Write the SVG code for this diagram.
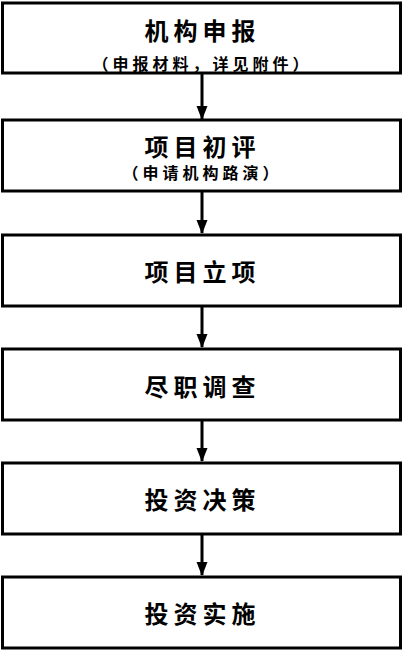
<svg xmlns="http://www.w3.org/2000/svg" width="403" height="650" viewBox="0 0 403 650">
<style>
.box{fill:#fff;stroke:#000;stroke-width:3}
.t{font-family:"Noto Sans CJK SC","Liberation Serif",sans-serif;font-weight:bold;fill:#000;text-anchor:middle;dominant-baseline:central}
.big{font-size:24px;letter-spacing:5px}
.small{font-size:16px;letter-spacing:4px}
.conn{stroke:#000;stroke-width:3;fill:none}
.head{fill:#000}
</style>
<rect width="403" height="650" fill="#fff"/>
<g id="connectors">
<line class="conn" x1="202" y1="73" x2="202" y2="119"/>
<path class="head" d="M196.5,106 L207.5,106 L202,120 Z"/>
<line class="conn" x1="202" y1="191" x2="202" y2="233"/>
<path class="head" d="M196.5,220 L207.5,220 L202,234 Z"/>
<line class="conn" x1="202" y1="306" x2="202" y2="347"/>
<path class="head" d="M196.5,334 L207.5,334 L202,348 Z"/>
<line class="conn" x1="202" y1="420" x2="202" y2="461"/>
<path class="head" d="M196.5,448 L207.5,448 L202,462 Z"/>
<line class="conn" x1="202" y1="534" x2="202" y2="575"/>
<path class="head" d="M196.5,562 L207.5,562 L202,576 Z"/>
</g>
<g id="n1">
<rect class="box" x="2.5" y="3" width="398" height="70"/>
<text class="t big" x="202.5" y="29">机构申报</text>
<text class="t small" x="202.5" y="63">（申报材料，详见附件）</text>
</g>
<g id="n2">
<rect class="box" x="2.5" y="120" width="398" height="71"/>
<text class="t big" x="202.5" y="145">项目初评</text>
<text class="t small" x="202.5" y="172">（申请机构路演）</text>
</g>
<g id="n3">
<rect class="box" x="2.5" y="235" width="398" height="71"/>
<text class="t big" x="202.5" y="270">项目立项</text>
</g>
<g id="n4">
<rect class="box" x="2.5" y="349" width="398" height="71"/>
<text class="t big" x="202.5" y="385">尽职调查</text>
</g>
<g id="n5">
<rect class="box" x="2.5" y="463" width="398" height="71"/>
<text class="t big" x="202.5" y="498">投资决策</text>
</g>
<g id="n6">
<rect class="box" x="2.5" y="577" width="398" height="71"/>
<text class="t big" x="202.5" y="612">投资实施</text>
</g>
</svg>
